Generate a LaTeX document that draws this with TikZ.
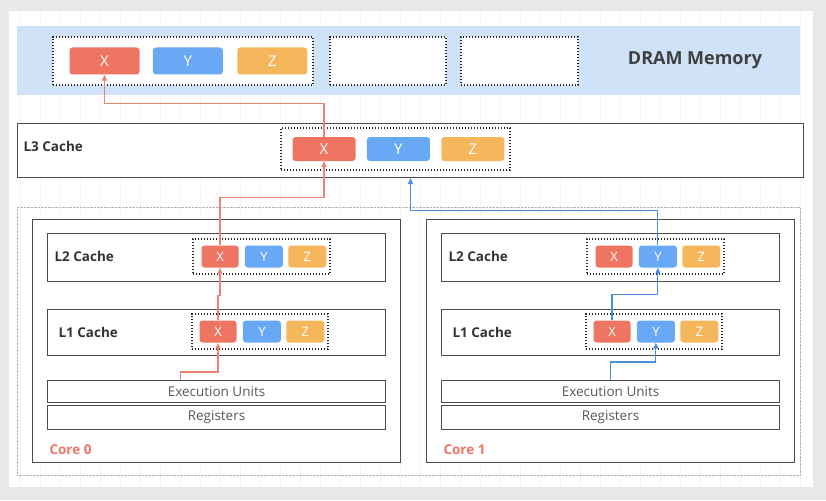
\documentclass[tikz,border=0pt]{standalone}
\usepackage{fontspec}
\setmainfont{Open Sans}
\usetikzlibrary{positioning,arrows.meta}

\definecolor{cellred}{HTML}{EE7562}
\definecolor{cellblue}{HTML}{69A8F5}
\definecolor{cellorange}{HTML}{F5B65C}
\definecolor{band}{HTML}{CFE2F7}
\definecolor{flowred}{HTML}{F08272}
\definecolor{flowblue}{HTML}{4A8EE0}

\tikzset{
  cell/.style={rounded corners=3, inner sep=0, text=white, font=\fontsize{13}{15}\selectfont},
  xcell/.style={cell, fill=cellred},
  ycell/.style={cell, fill=cellblue},
  zcell/.style={cell, fill=cellorange},
  group/.style={draw=black!85, line width=1.4, dash pattern=on 1.4pt off 1.6pt, inner sep=0},
  level/.style={draw=black!70, fill=white, line width=1, inner sep=0, anchor=north west},
  caption/.style={anchor=west, text=black!80, font=\bfseries\fontsize{13.5}{16}\selectfont},
  unit/.style={level, text=black!65, font=\fontsize{13.5}{16}\selectfont},
  redflow/.style={draw=flowred, line width=1.1, -{Triangle[length=6pt,width=5pt]}},
  blueflow/.style={draw=flowblue, line width=1.1, -{Triangle[length=6pt,width=5pt]}}
}

\begin{document}
\begin{tikzpicture}[x=1pt,y=-1pt]
  \useasboundingbox (0,0) rectangle (826,500);
  \fill[gray!18] (0,0) rectangle (826,500);
  \fill[white] (9,11) rectangle (813,487);
  \draw[black!4, step=20] (9,11) grid (813,487);

  % DRAM
  \node[fill=band, inner sep=0, anchor=north west, minimum width=783, minimum height=69] (dram) at (17,26) {};
  \node[text=black!75, font=\bfseries\fontsize{18}{22}\selectfont] (dramlabel) at (695,60) {DRAM Memory};
  \node[group, fill=white, minimum width=260, minimum height=48] (dramg) at (183,61) {};
  \node[group, fill=white, minimum width=116, minimum height=48] (dramg2) at (388,61) {};
  \node[group, fill=white, minimum width=117, minimum height=48] (dramg3) at (519.5,61) {};
  \node[xcell, minimum width=70, minimum height=27, font=\fontsize{15}{17}\selectfont] (dramx) [right=17pt of dramg.west] {X};
  \node[ycell, minimum width=70, minimum height=27, font=\fontsize{15}{17}\selectfont] (dramy) [right=13pt of dramx] {Y};
  \node[zcell, minimum width=70, minimum height=27, font=\fontsize{15}{17}\selectfont] (dramz) [right=14pt of dramy] {Z};

  % L3
  \node[level, minimum width=786, minimum height=54] (l3) at (17,123) {};
  \node[caption] at (20,146) {L3 Cache};
  \node[group, minimum width=229, minimum height=42] (l3g) at (395.5,149) {};
  \node[xcell, minimum width=63, minimum height=24, font=\fontsize{15}{17}\selectfont] (l3x) [right=12pt of l3g.west] {X};
  \node[ycell, minimum width=63, minimum height=24, font=\fontsize{15}{17}\selectfont] (l3y) [right=11pt of l3x] {Y};
  \node[zcell, minimum width=63, minimum height=24, font=\fontsize{15}{17}\selectfont] (l3z) [right=11pt of l3y] {Z};

  \node[draw=gray!60, densely dotted, inner sep=0, anchor=north west, minimum width=783, minimum height=268] (chip) at (17,207) {};

  \foreach \n/\dx in {0/0,1/394} {
    \begin{scope}[xshift=\dx]
      \node[level, minimum width=368, minimum height=243] (core\n) at (32,219) {};
      \node[caption, text=cellred] at (46,450) {Core \n};

      \node[level, minimum width=338, minimum height=48] (l2\n) at (47,233) {};
      \node[caption] at (51,256) {L2 Cache};
      \node[group, minimum width=137, minimum height=35] (l2g\n) at (261.5,256.5) {};
      \node[xcell, minimum width=37, minimum height=22] (l2x\n) [right=9pt of l2g\n.west] {X};
      \node[ycell, minimum width=38, minimum height=22] (l2y\n) [right=6pt of l2x\n] {Y};
      \node[zcell, minimum width=38, minimum height=22] (l2z\n) [right=5pt of l2y\n] {Z};

      \node[level, minimum width=338, minimum height=46] (l1\n) at (47,309) {};
      \node[caption] at (55,332) {L1 Cache};
      \node[group, minimum width=136, minimum height=35] (l1g\n) at (260,331.5) {};
      \node[xcell, minimum width=37, minimum height=22] (l1x\n) [right=8pt of l1g\n.west] {X};
      \node[ycell, minimum width=38, minimum height=22] (l1y\n) [right=6pt of l1x\n] {Y};
      \node[zcell, minimum width=38, minimum height=22] (l1z\n) [right=5pt of l1y\n] {Z};

      \node[unit, minimum width=338, minimum height=22] (eu\n) at (47,380) {Execution Units};
      \node[unit, minimum width=338, minimum height=24] (reg\n) at (47,405) {Registers};
    \end{scope}
  }

  \draw[redflow] ([xshift=-36pt]eu0.north) -- ++(0,-8) -| (l1x0.south);
  \draw[redflow] (l1x0.north) -- ++(0,-25) -| (l2x0.south);
  \draw[redflow] (l2x0.north) -- ++(0,-48) -| (l3x.south);
  \draw[redflow] (l3x.north) -- ++(0,-33) -| (dramx.south);

  \draw[blueflow] (eu1.north) -- ++(0,-18) -| (l1y1.south);
  \draw[blueflow] (l1x1.north) -- ++(0,-26) -| (l2y1.south);
  \draw[blueflow] (l2y1.north) -- ++(0,-35) -| (l3.south);
\end{tikzpicture}
\end{document}
